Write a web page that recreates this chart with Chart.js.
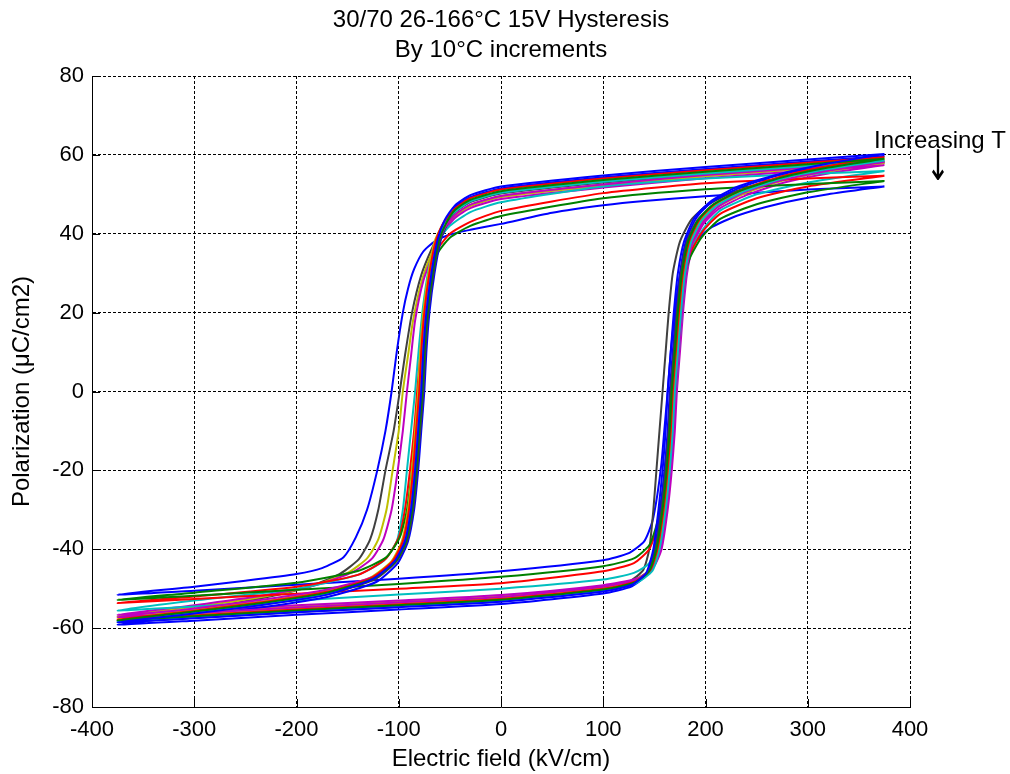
<!DOCTYPE html>
<html>
<head>
<meta charset="utf-8">
<title>30/70 26-166°C 15V Hysteresis</title>
<script src="https://cdn.jsdelivr.net/npm/chart.js@4.4.1/dist/chart.umd.min.js"></script>
<style>
  html, body { margin: 0; padding: 0; background: #fff; }
  canvas { display: block; }
</style>
</head>
<body>
<canvas id="myChart" width="1010" height="774"></canvas>
<script>
// data: one loop per temperature, [E kV/cm, P uC/cm2]
const temps = [26, 36, 46, 56, 66, 76, 86, 96, 106, 116, 126, 136, 146, 156, 166];
const colors = ['#0000ff', '#008000', '#ff0000', '#00bfbf', '#bf00bf', '#bfbf00', '#404040',
                '#0000ff', '#008000', '#ff0000', '#00bfbf', '#bf00bf', '#bfbf00', '#404040', '#0000ff'];
const xTicks = [-400, -300, -200, -100, 0, 100, 200, 300, 400];
const yTicks = [-80, -60, -40, -20, 0, 20, 40, 60, 80];

// upper branch (field going down) and lower branch (field going up)
const up26 = [[375,60.2],[300,58.8],[200,56.9],[100,54.8],[0,52],[-30,49.8],[-45,47.2],[-55,43.5],[-62,38.5],[-68,30],[-73,20],[-76,10],[-78,0],[-81,-10],[-84,-20],[-88,-30],[-94,-38],[-104,-43],[-125,-47.5],[-170,-51.5],[-230,-54],[-300,-56.3],[-375,-58.5]];
const lo26 = [[-375,-58.5],[-300,-57.5],[-200,-56],[-100,-54.7],[0,-53.3],[100,-50.7],[128,-49],[142,-46],[149,-40],[154,-30],[158,-20],[161,-10],[163,0],[166,10],[169,20],[173,30],[179,38],[189,44],[204,48],[230,51.8],[270,55],[320,57.8],[375,60.2]];
const up36 = [[375,59],[300,57.6],[200,55.7],[100,53.6],[0,50.8],[-30,48.6],[-45,46],[-54,42.5],[-61,38],[-67,30],[-72,20],[-75,10],[-77,0],[-80,-10],[-83,-20],[-87,-30],[-93,-38],[-103,-43],[-124,-47.3],[-170,-51],[-230,-53.5],[-300,-55.8],[-375,-58]];
const lo36 = [[-375,-58],[-300,-57],[-200,-55.5],[-100,-54.2],[0,-52.8],[100,-50.2],[130,-48.5],[145,-45.5],[152,-40],[158,-30],[162,-20],[165,-10],[167,0],[170,10],[173,20],[177,30],[183,38],[193,43.5],[208,47.5],[235,51],[275,54.3],[320,56.8],[375,59]];
const up46 = [[375,59.4],[300,58],[200,56.1],[100,54],[0,51.2],[-30,49],[-45,46.4],[-57,42.5],[-64,38],[-70,30],[-75,20],[-78,10],[-80,0],[-83,-10],[-86,-20],[-90,-30],[-96,-38],[-106,-43],[-127,-47.3],[-170,-50.8],[-230,-53.3],[-300,-55.6],[-375,-57.8]];
const lo46 = [[-375,-57.8],[-300,-56.8],[-200,-55.3],[-100,-54],[0,-52.6],[100,-50],[130,-48.3],[146,-45.3],[153,-40],[159,-30],[163,-20],[166,-10],[168,0],[171,10],[174,20],[178,30],[184,38],[194,43.5],[209,47.5],[236,51.2],[275,54.6],[320,57.2],[375,59.4]];
const up56 = [[375,58.6],[300,57.2],[200,55.3],[100,53.2],[0,50.4],[-30,48.2],[-45,45.6],[-56,42.5],[-63,38],[-69,30],[-74,20],[-77,10],[-79,0],[-82,-10],[-85,-20],[-89,-30],[-95,-38],[-105,-43],[-126,-47.5],[-170,-51.2],[-230,-53.7],[-300,-56],[-375,-58.2]];
const lo56 = [[-375,-58.2],[-300,-57.2],[-200,-55.7],[-100,-54.4],[0,-53],[100,-50.4],[132,-48.6],[148,-45.5],[155,-40],[161,-30],[165,-20],[168,-10],[170,0],[173,10],[176,20],[180,30],[186,38],[196,43.3],[211,47.2],[238,50.8],[275,54],[320,56.4],[375,58.6]];
const up66 = [[375,58.2],[300,56.8],[200,54.9],[100,52.5],[0,49.6],[-30,47.4],[-45,44.8],[-55,41.5],[-62,37.5],[-68,30],[-73,20],[-76,10],[-78,0],[-81,-10],[-84,-20],[-88,-30],[-94,-38],[-104,-43],[-125,-47],[-170,-50.2],[-230,-52.7],[-300,-55],[-375,-57.2]];
const lo66 = [[-375,-57.2],[-300,-56.2],[-200,-54.8],[-100,-53.5],[0,-52.1],[100,-49.5],[132,-47.8],[148,-45],[156,-40],[162,-30],[166,-20],[169,-10],[171,0],[174,10],[177,20],[181,30],[187,37.5],[197,42.8],[212,46.8],[238,50.5],[275,53.6],[320,56],[375,58.2]];
const up76 = [[375,58.9],[300,57.5],[200,55.6],[100,53.4],[0,50.6],[-30,48.4],[-45,45.8],[-57,42.3],[-65,38],[-71,30],[-76,20],[-79,10],[-81,0],[-84,-10],[-87,-20],[-91,-30],[-97,-38],[-107,-43],[-128,-47.2],[-170,-50.6],[-230,-53.1],[-300,-55.4],[-375,-57.6]];
const lo76 = [[-375,-57.6],[-300,-56.6],[-200,-55.1],[-100,-53.8],[0,-52.4],[100,-49.8],[131,-48.1],[147,-45.2],[154,-40],[160,-30],[164,-20],[167,-10],[169,0],[172,10],[175,20],[179,30],[185,38],[195,43.4],[210,47.4],[237,51],[275,54.2],[320,56.7],[375,58.9]];
const up86 = [[375,58.4],[300,57],[200,55.1],[100,53],[0,50.2],[-30,48],[-45,45.4],[-53,42.3],[-60,38],[-66,30],[-71,20],[-74,10],[-76,0],[-79,-10],[-82,-20],[-86,-30],[-92,-38],[-102,-43],[-123,-47.6],[-170,-51.4],[-230,-53.9],[-300,-56.2],[-375,-58.4]];
const lo86 = [[-375,-58.4],[-300,-57.4],[-200,-55.9],[-100,-54.6],[0,-53.2],[100,-50.6],[129,-48.8],[144,-45.8],[151,-40],[157,-30],[161,-20],[164,-10],[166,0],[169,10],[172,20],[176,30],[182,38],[192,43.4],[207,47.2],[234,50.8],[272,54],[320,56.4],[375,58.4]];
const up96 = [[375,59.7],[300,58.3],[200,56.4],[100,54.3],[0,51.5],[-30,49.3],[-45,46.7],[-52,43],[-59,38.3],[-65,30],[-70,20],[-73,10],[-75,0],[-78,-10],[-81,-20],[-85,-30],[-91,-38],[-101,-43.5],[-122,-48.3],[-170,-52.1],[-230,-54.6],[-300,-56.9],[-375,-59.1]];
const lo96 = [[-375,-59.1],[-300,-58.1],[-200,-56.6],[-100,-55.3],[0,-53.9],[100,-51.2],[128,-49.4],[143,-46.3],[150,-40],[156,-30],[160,-20],[163,-10],[165,0],[168,10],[171,20],[175,30],[181,38.3],[191,44],[206,48],[233,51.6],[272,54.9],[320,57.4],[375,59.7]];
const up106 = [[375,53.4],[300,52.6],[200,51.3],[100,49],[0,44.5],[-30,42],[-50,39],[-62,35],[-70,28],[-75,18],[-78,9],[-80,0],[-83,-10],[-87,-20],[-92,-30],[-99,-37],[-112,-42],[-140,-45.5],[-200,-48.5],[-300,-51],[-375,-52.8]];
const lo106 = [[-375,-52.8],[-300,-51.8],[-200,-50.3],[-100,-48.8],[0,-47],[100,-44.3],[130,-42.3],[145,-39],[153,-33],[158,-25],[162,-15],[165,-7],[168,0],[171,10],[174,20],[178,28],[185,34],[196,39],[214,43.7],[250,47.5],[300,50.5],[375,53.4]];
const up116 = [[375,54.7],[300,54],[200,52.8],[100,50.3],[0,45.8],[-30,43],[-50,40],[-62,36],[-70,29],[-76,19],[-79,9],[-82,0],[-85,-10],[-89,-20],[-94,-30],[-100,-37],[-113,-42.5],[-140,-46.5],[-200,-49.5],[-300,-52],[-375,-53.6]];
const lo116 = [[-375,-53.6],[-300,-52.6],[-200,-51.3],[-100,-50],[0,-48.6],[100,-45.6],[130,-43.5],[145,-40],[153,-34],[158,-26],[163,-15],[166,-7],[169,0],[172,10],[175,20],[179,29],[186,35.5],[197,40.5],[214,45],[250,49],[300,52],[375,54.7]];
const up126 = [[375,55.9],[300,55.2],[200,54],[100,52],[0,48],[-30,45.5],[-50,42],[-62,38],[-70,32],[-76,22],[-80,12],[-84,0],[-88,-10],[-92,-20],[-96,-30],[-102,-38],[-115,-43],[-140,-46.5],[-200,-50],[-300,-53],[-375,-55.5]];
const lo126 = [[-375,-55.5],[-300,-54.5],[-200,-53],[-100,-51.5],[0,-50],[100,-47.7],[130,-46],[145,-43.5],[153,-38],[158,-30],[163,-20],[167,-10],[171,0],[174,10],[177,20],[181,30],[188,37],[200,42],[215,46],[250,50],[300,53],[375,55.9]];
const up136 = [[375,57.4],[300,56],[200,54.1],[100,51.7],[0,48.8],[-30,46.5],[-45,44],[-56,40.5],[-66,35],[-76,28],[-84,18],[-88,9],[-92,0],[-96,-10],[-101,-20],[-107,-30],[-115,-37.5],[-126,-42.3],[-145,-45.8],[-180,-49],[-230,-51.6],[-300,-54.2],[-375,-56.6]];
const lo136 = [[-375,-56.6],[-300,-55.6],[-200,-54.2],[-100,-53],[0,-51.6],[100,-49.1],[133,-47.4],[149,-44.6],[157,-40],[163,-30],[167,-20],[170,-10],[172,0],[175,10],[178,20],[182,30],[188,37.3],[198,42.5],[213,46.3],[240,49.8],[277,53],[320,55.3],[375,57.4]];
const up146 = [[375,57.9],[300,56.5],[200,54.6],[100,52.2],[0,49.3],[-30,47],[-45,44.4],[-57,40.8],[-67,35.5],[-77,28.5],[-86,18],[-91,9],[-96,0],[-100,-10],[-106,-20],[-112,-30],[-120,-37.5],[-131,-42.3],[-150,-46],[-185,-49.3],[-230,-51.9],[-300,-54.6],[-375,-57]];
const lo146 = [[-375,-57],[-300,-56],[-200,-54.6],[-100,-53.3],[0,-51.9],[100,-49.4],[131,-47.7],[147,-44.9],[155,-40],[161,-30],[165,-20],[168,-10],[170,0],[173,10],[176,20],[180,30],[186,37.6],[196,42.8],[211,46.6],[238,50.2],[275,53.4],[320,55.8],[375,57.9]];
const up156 = [[375,58],[300,56.6],[200,54.7],[100,52.4],[0,49.5],[-30,47.2],[-45,44.6],[-58,41],[-68,36],[-78,29.5],[-87,20],[-94,9],[-99,0],[-105,-10],[-113,-20],[-120,-30],[-128,-37.5],[-139,-42.5],[-158,-46.3],[-190,-49.7],[-240,-52.7],[-300,-55.4],[-375,-58]];
const lo156 = [[-375,-58],[-300,-57],[-200,-55.5],[-100,-54.2],[0,-52.8],[100,-50.1],[125,-48.3],[139,-45.3],[145,-40],[149,-30],[152,-20],[155,-10],[158,0],[161,10],[164,20],[168,30],[175,38],[186,43.5],[202,47.3],[230,50.8],[270,54],[320,56.3],[375,58]];
const up166 = [[375,52],[300,51.2],[200,49.5],[140,48.3],[100,47.2],[50,45.3],[0,42.5],[-30,41],[-50,39.8],[-65,38],[-76,35.5],[-85,31],[-91,26],[-96,20],[-102,10],[-107,0],[-113,-10],[-121,-20],[-131,-30],[-142,-37],[-154,-42],[-175,-44.8],[-200,-46.3],[-250,-48],[-300,-49.5],[-375,-51.5]];
const lo166 = [[-375,-51.5],[-300,-50.5],[-200,-49],[-100,-47.5],[0,-45.6],[100,-42.8],[125,-41],[140,-38],[148,-33],[153,-26],[157,-18],[160,-9],[163,0],[166,10],[170,20],[174,28],[180,34],[190,38],[205,41.5],[230,44.5],[270,47.5],[320,50],[375,52]];

const upperBranches = [up26, up36, up46, up56, up66, up76, up86, up96, up106, up116, up126, up136, up146, up156, up166];
const lowerBranches = [lo26, lo36, lo46, lo56, lo66, lo76, lo86, lo96, lo106, lo116, lo126, lo136, lo146, lo156, lo166];

const FONT = '"Liberation Sans", Arial, Helvetica, sans-serif';
Chart.defaults.font.family = FONT;
Chart.defaults.color = '#000';

// closed loop: upper branch then back along the lower branch
const datasets = temps.map((t, i) => ({
  label: t + '°C',
  data: upperBranches[i].concat(lowerBranches[i].slice(1)).map(p => ({x: p[0], y: p[1]})),
  borderColor: colors[i],
  backgroundColor: colors[i],
  borderWidth: 2,
  pointRadius: 0,
  showLine: true,
  fill: false,
  tension: 0.2
}));

// small inward tick marks on the left and bottom axes
const innerTicks = {
  id: 'innerTicks',
  beforeDatasetsDraw(chart) {
    const {ctx, chartArea, scales} = chart;
    ctx.save();
    ctx.strokeStyle = '#000';
    ctx.lineWidth = 1;
    ctx.beginPath();
    scales.y.ticks.forEach(t => {
      const y = Math.round(scales.y.getPixelForValue(t.value)) + 0.5;
      ctx.moveTo(chartArea.left, y);
      ctx.lineTo(chartArea.left + 8, y);
    });
    scales.x.ticks.forEach(t => {
      const x = Math.round(scales.x.getPixelForValue(t.value)) + 0.5;
      ctx.moveTo(x, chartArea.bottom);
      ctx.lineTo(x, chartArea.bottom - 8);
    });
    ctx.stroke();
    ctx.restore();
  }
};

// title and the "Increasing T" note
const texts = {
  id: 'texts',
  afterDraw(chart) {
    const {ctx, chartArea} = chart;
    const cx = (chartArea.left + chartArea.right) / 2;
    ctx.save();
    ctx.fillStyle = '#000';
    ctx.textAlign = 'center';
    ctx.textBaseline = 'middle';
    ctx.font = '24px ' + FONT;
    ctx.fillText('30/70 26-166°C 15V Hysteresis', cx, 20);
    ctx.fillText('By 10°C increments', cx, 50);
    ctx.fillText('Increasing T', 940, 141);
    // the arrow glyph, stretched a little taller
    ctx.translate(938, 169);
    ctx.scale(1, 1.5);
    ctx.font = '28px "DejaVu Sans", sans-serif';
    ctx.fillText('↓', 0, 0);
    ctx.restore();
  }
};

const ctx = document.getElementById('myChart').getContext('2d');
const chart = new Chart(ctx, {
  type: 'scatter',
  data: { datasets: datasets },
  options: {
    responsive: false,
    animation: false,
    devicePixelRatio: 1,
    layout: { padding: { left: 0, top: 76, right: 100, bottom: 0 } },
    plugins: {
      legend: { display: false },
      tooltip: { enabled: false }
    },
    scales: {
      x: {
        type: 'linear',
        min: -400,
        max: 400,
        afterBuildTicks: s => { s.ticks = xTicks.map(v => ({value: v})); },
        afterFit: s => { s.height = 67; },
        ticks: { font: { size: 22 }, color: '#000', padding: 10, maxRotation: 0 },
        grid: { color: '#000', lineWidth: 1, drawTicks: false },
        border: { display: true, color: '#000', width: 1, dash: [3, 2] },
        title: { display: true, text: 'Electric field (kV/cm)', font: { size: 24 }, color: '#000', padding: { top: 0, bottom: 0 } }
      },
      y: {
        type: 'linear',
        min: -80,
        max: 80,
        afterBuildTicks: s => { s.ticks = yTicks.map(v => ({value: v})); },
        afterFit: s => { s.width = 92; },
        ticks: { font: { size: 22 }, color: '#000', padding: 8 },
        grid: { color: '#000', lineWidth: 1, drawTicks: false },
        border: { display: true, color: '#000', width: 1, dash: [3, 2] },
        title: { display: true, text: 'Polarization (μC/cm2)', font: { size: 24 }, color: '#000', padding: { top: 8, bottom: 0 } }
      }
    }
  },
  plugins: [innerTicks, texts]
});
</script>
</body>
</html>
